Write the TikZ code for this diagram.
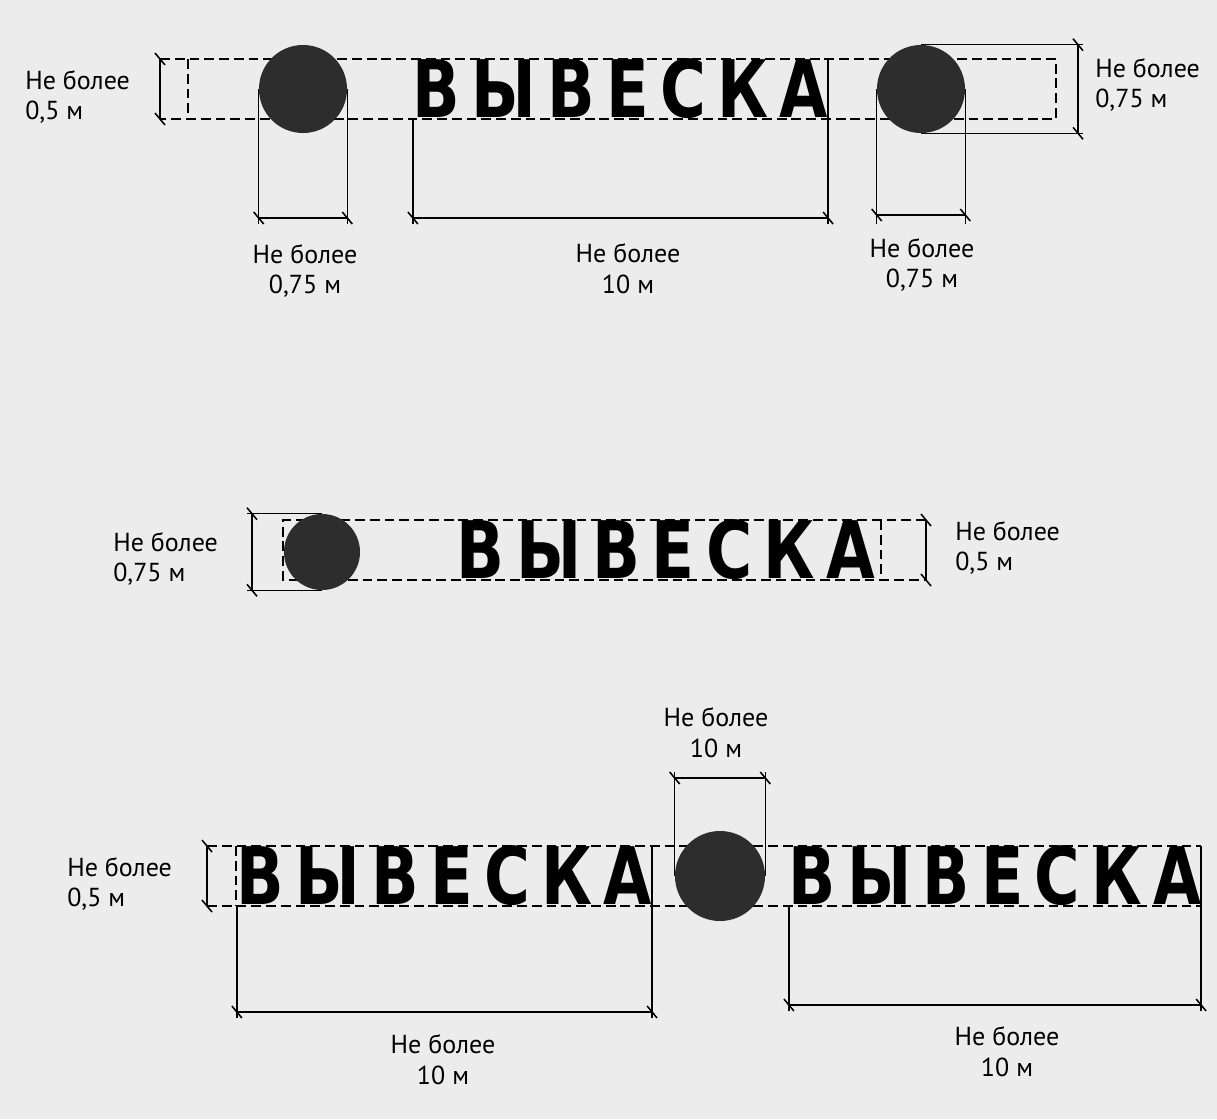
\documentclass[tikz,border=0pt]{standalone}
\usepackage{fontspec}
\setmainfont{PT Sans}
\newfontfamily\signfont{DejaVu Sans}
\usetikzlibrary{positioning}
\definecolor{paper}{RGB}{236,236,236}
\definecolor{dotgray}{RGB}{45,45,45}
\newcommand{\signtext}[1]{\resizebox*{#1}{1.5cm}{\signfont\bfseries В\kern.18em Ы\kern.18em В\kern.18em Е\kern.18em С\kern.18em К\kern.18em А}}
\newcommand{\notesize}{\fontsize{18.5pt}{22pt}\selectfont}
\newcommand{\dimline}[2]{%
  \draw[dimension] (#1) -- (#2);
  \draw[tickmark] (#1) +(-5,-6) -- +(5,6);
  \draw[tickmark] (#2) +(-5,-6) -- +(5,6);}

\begin{document}
\begin{tikzpicture}[x=0.025cm, y=-0.025cm]
		\tikzstyle{band} = [line width=1.1pt, dash pattern=on 7pt off 3.5pt]
		\tikzstyle{ext} = [line width=0.9pt]
		\tikzstyle{dimension} = [line width=1.3pt]
		\tikzstyle{tickmark} = [line width=1.1pt]
		\tikzstyle{dot} = [circle, draw=none, fill=dotgray, inner sep=0pt]
		\tikzstyle{sign} = [inner sep=0pt, outer sep=0pt]
		\tikzstyle{note} = [align=center, inner sep=0pt, font=\notesize]
		\tikzstyle{sidenote} = [align=left, anchor=west, inner sep=0pt, font=\notesize]

		\fill[paper] (0,0) rectangle (1217,1119);
		\useasboundingbox (0,0) rectangle (1217,1119);

		% top row
		\coordinate (a1) at (160,59);
		\coordinate (a2) at (1056,119);
		\coordinate (a3) at (188,0);
		\coordinate (e1) at (0,224);
		\coordinate (m1) at (0,218);
		\coordinate (m2) at (0,215);
		\coordinate (r1) at (1078,0);
		\draw[band] (a1) -- (a1 -| a2) -- (a2) -- (a2 -| a1);
		\draw[band] (a3 |- a1) -- (a3 |- a2);

		\node[dot, minimum size=2.2cm] (c1) at (303,89) {};
		\node[sign] (t1) at (620.5,89) {\signtext{10.375cm}};
		\node[dot, minimum size=2.2cm] (c2) at (921,89) {};

		\dimline{a1}{a2 -| a1}
		\draw[ext] (c1.west) -- (c1.west |- e1);
		\draw[ext] (c1.east) -- (c1.east |- e1);
		\dimline{c1.west |- m1}{c1.east |- m1}
		\draw[ext] (t1.south west) -- (t1.south west |- e1);
		\draw[ext] (t1.north east) -- (t1.north east |- e1);
		\dimline{t1.west |- m1}{t1.east |- m1}
		\draw[ext] (c2.west) -- (c2.west |- e1);
		\draw[ext] (c2.east) -- (c2.east |- e1);
		\dimline{c2.west |- m2}{c2.east |- m2}
		\draw[ext] (c2.north) -- (c2.north -| r1) -- ++(5,0);
		\draw[ext] (c2.south) -- (c2.south -| r1) -- ++(5,0);
		\dimline{r1 |- c2.north}{r1 |- c2.south}

		\node[sidenote] (n1) at (25,97) {Не более\\0,5 м};
		\node[note] (n2) at (305,271) {Не более\\0,75 м};
		\node[note] (n3) at (628,269) {Не более\\10 м};
		\node[note] (n4) at (922,265) {Не более\\0,75 м};
		\node[sidenote] (n5) at (1095,85) {Не более\\0,75 м};

		% middle row
		\coordinate (b1) at (283,520);
		\coordinate (b2) at (926,580);
		\coordinate (b3) at (881,0);
		\coordinate (l2) at (252,0);
		\draw[band] (b1 -| b2) -- (b1) -- (b2 -| b1) -- (b2);
		\draw[band] (b3 |- b1) -- (b3 |- b2);

		\node[dot, minimum size=1.9cm] (c3) at (322,552) {};
		\node[sign] (t3) at (666,550) {\signtext{10.45cm}};

		\draw[ext] (c3.north) -- (c3.north -| l2) -- ++(-5,0);
		\draw[ext] (c3.south) -- (c3.south -| l2) -- ++(-5,0);
		\dimline{l2 |- c3.north}{l2 |- c3.south}
		\dimline{b1 -| b2}{b2}

		\node[sidenote] (n6) at (113,559) {Не более\\0,75 м};
		\node[sidenote] (n7) at (955,548) {Не более\\0,5 м};

		% bottom row
		\coordinate (g1) at (207,846);
		\coordinate (g2) at (1201,906);
		\coordinate (g3) at (236,0);
		\coordinate (e3) at (0,1018);
		\coordinate (m3) at (0,1012);
		\coordinate (e4) at (0,1011);
		\coordinate (m4) at (0,1005);
		\coordinate (e5) at (0,772);
		\coordinate (m5) at (0,778);
		\draw[band] (g1) -- (g1 -| g2) (g2 -| g1) -- (g2);
		\draw[band] (g3 |- g1) -- (g3 |- g2);

		\node[dot, minimum size=2.25cm] (c5) at (720,876) {};
		\node[sign] (t4) at (444.5,876) {\signtext{10.375cm}};
		\node[sign] (t5) at (995,876) {\signtext{10.3cm}};

		\dimline{g1}{g2 -| g1}
		\draw[ext] (t4.south west) -- (t4.south west |- e3);
		\draw[ext] (t4.north east) -- (t4.north east |- e3);
		\dimline{t4.west |- m3}{t4.east |- m3}
		\draw[ext] (t5.south west) -- (t5.south west |- e4);
		\draw[ext] (t5.north east) -- (t5.north east |- e4);
		\dimline{t5.west |- m4}{t5.east |- m4}
		\draw[ext] (c5.west) -- (c5.west |- e5);
		\draw[ext] (c5.east) -- (c5.east |- e5);
		\dimline{c5.west |- m5}{c5.east |- m5}

		\node[sidenote] (n8) at (67,884) {Не более\\0,5 м};
		\node[note] (n9) at (443,1060) {Не более\\10 м};
		\node[note] (n10) at (1007,1052) {Не более\\10 м};
		\node[note] (n11) at (716,733) {Не более\\10 м};
\end{tikzpicture}
\end{document}
